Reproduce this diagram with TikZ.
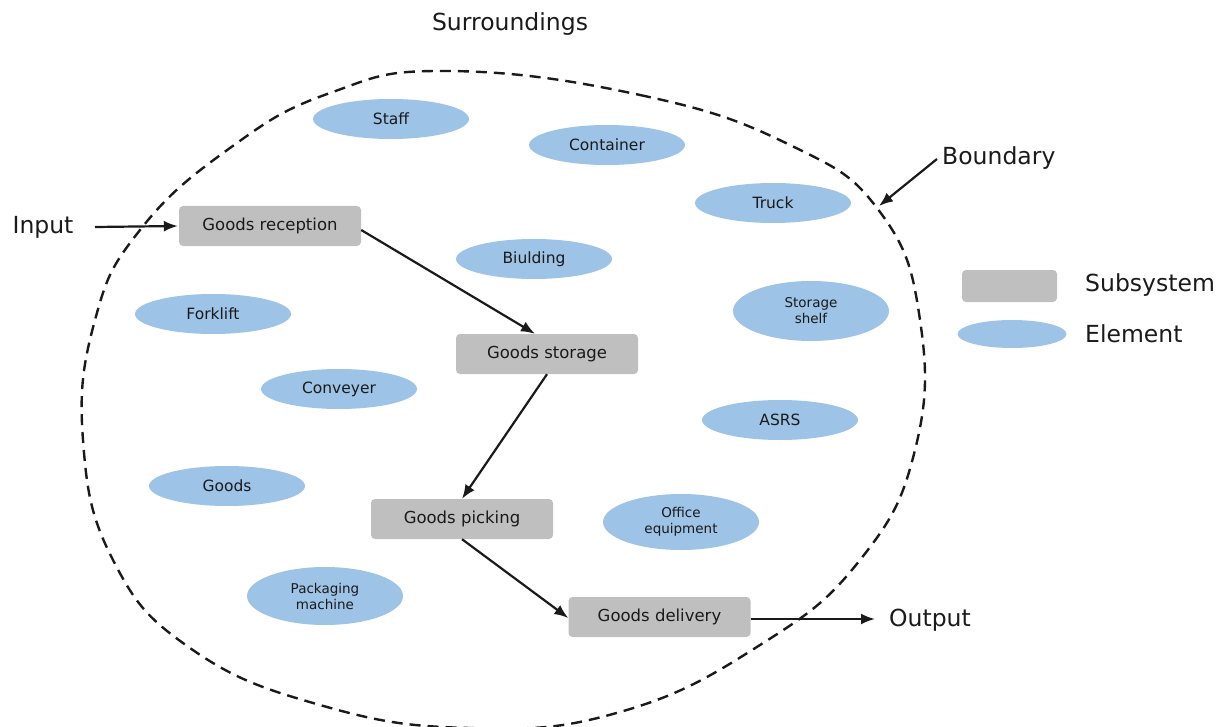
\documentclass[tikz,border=0pt]{standalone}
\usepackage{fontspec}
\setmainfont{DejaVu Sans}
\usetikzlibrary{shapes.geometric,arrows.meta}
\definecolor{subsys}{HTML}{BFBFBF}
\definecolor{elem}{HTML}{9DC3E6}
\definecolor{ink}{HTML}{1A1A1A}

\begin{document}
\begin{tikzpicture}[x=1pt,y=-1pt,
  subsystem/.style={fill=subsys, rounded corners=4pt, minimum width=182pt,
    minimum height=40pt, inner sep=0pt, font=\fontsize{16.5}{19}\selectfont, text=ink},
  element/.style={ellipse, fill=elem, minimum width=156pt, minimum height=40pt,
    inner sep=0pt, font=\fontsize{15.5}{18}\selectfont, text=ink},
  element2/.style={element, align=center, font=\fontsize{13.5}{16}\selectfont},
  biglabel/.style={font=\fontsize{23.5}{28}\selectfont, text=ink, inner sep=0pt},
  flow/.style={line width=2.2pt, draw=ink, -{Latex[length=14pt,width=11pt]}},
  boundary/.style={line width=2.4pt, draw=ink, dash pattern=on 11pt off 7pt}]

\useasboundingbox (0,0) rectangle (1230,727);

% system boundary
\draw[boundary] plot[smooth cycle, tension=0.75] coordinates {
  (447,71) (640,95) (790,145) (880,212) (920,320) (915,450) (860,560)
  (760,645) (620,712) (470,728) (320,705) (190,648) (113,560) (83,440)
  (95,320) (140,230) (230,148) (330,93)};

% elements
\node[element] (staff) at (391,119) {Staff};
\node[element] (cont)  at (607,145) {Container};
\node[element] (truck) at (773,203) {Truck};
\node[element] (bld)   at (534,259) {Biulding};
\node[element] (fork)  at (213,314) {Forklift};
\node[element2, minimum height=60pt] (shelf) at (811,311) {Storage\\shelf};
\node[element] (conv)  at (339,389) {Conveyer};
\node[element] (asrs)  at (780,420) {ASRS};
\node[element] (goods) at (227,486) {Goods};
\node[element2, minimum height=56pt] (office) at (681,522) {Office\\equipment};
\node[element2, minimum height=58pt] (pack) at (325,596) {Packaging\\machine};

% subsystems
\node[subsystem] (recv) at (270,226) {Goods reception};
\node[subsystem] (stor) at (547,354) {Goods storage};
\node[subsystem] (pick) at (462,519) {Goods picking};
\node[subsystem] (del)  at (659.5,617) {Goods delivery};

% labels
\node[biglabel] (surr) at (510,24) {Surroundings};
\node[biglabel] (inp)  at (43,227) {Input};
\node[biglabel, anchor=west] (outl) at (889,620) {Output};
\node[biglabel, anchor=west] (bnd)  at (942,158) {Boundary};

% legend
\node[subsystem, minimum width=95pt, minimum height=32pt] (legsub) at (1009.5,286) {};
\node[element, minimum width=109pt, minimum height=28pt] (legel) at (1012,334) {};
\node[biglabel, anchor=west] (legsubt) at (1085,285) {Subsystem};
\node[biglabel, anchor=west] (legelt)  at (1085,334) {Element};

% free arrow ends
\coordinate (inStart) at (95,227);
\coordinate (outEnd)  at (875,619);
\coordinate (bStart)  at (937,159);
\coordinate (bEnd)    at (879,206);

% flows
\draw[flow] (inStart) -- ([xshift=-1pt]recv.west);
\draw[flow] ([yshift=-4pt]recv.east) -- ([xshift=-12pt]stor.north);
\draw[flow] (stor.south) -- (pick.north);
\draw[flow] (pick.south) -- ([yshift=-1pt]del.west);
\draw[flow] ([yshift=-2pt]del.east) -- (outEnd);
\draw[flow] (bStart) -- (bEnd);
\end{tikzpicture}
\end{document}
